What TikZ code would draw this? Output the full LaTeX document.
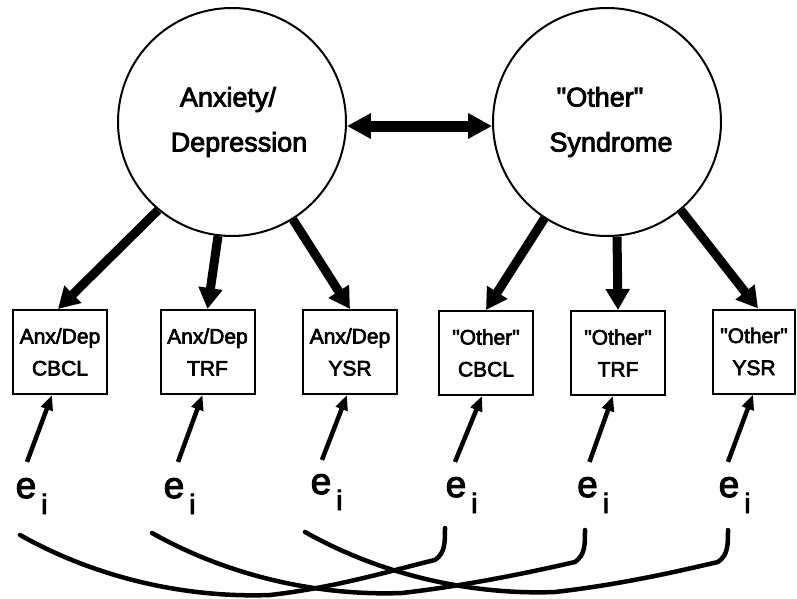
\documentclass[tikz,border=0pt]{standalone}
\usepackage{fontspec}
\newfontfamily\hv[FakeBold=3]{Liberation Sans}
\usetikzlibrary{arrows.meta,calc}
\newcommand{\esub}{e\rlap{\kern5pt\raisebox{-16pt}{\fontsize{28}{28}\selectfont i}}}
\begin{document}
\begin{tikzpicture}[x=1pt,y=-1pt,
  lat/.style={circle,draw,line width=2pt,minimum size=228pt,inner sep=0pt,align=center,font=\hv\fontsize{27}{45}\selectfont},
  obs/.style={rectangle,draw,line width=2pt,minimum width=94pt,minimum height=84pt,inner sep=0pt,align=center,font=\hv\fontsize{21}{32}\selectfont},
  err/.style={inner sep=0pt,anchor=base,font=\hv\fontsize{37}{37}\selectfont},
  load/.style={line width=9pt,-{Triangle[length=21pt,width=23pt]}},
  cov/.style={line width=11pt,{Triangle[length=24pt,width=24pt]}-{Triangle[length=24pt,width=24pt]}},
  res/.style={line width=4.5pt,-{Triangle[length=15pt,width=12pt]}},
  corr/.style={line width=4.5pt,line cap=round}]
\useasboundingbox (0,0) rectangle (797,599);
% latent variables
\node[lat] (A) at (232,122) {Anxiety/\hspace*{8pt}\\\hspace*{14pt}Depression};
\node[lat] (O) at (607,122) {"Other"\hspace*{14pt}\\\hspace*{8pt}Syndrome};
% observed variables
\node[obs] (b1) at (60,352) {Anx/Dep\\CBCL};
\node[obs] (b2) at (207.5,352) {Anx/Dep\\TRF};
\node[obs] (b3) at (350,352) {Anx/Dep\\YSR};
\node[obs] (b4) at (486,353) {"Other"\\CBCL};
\node[obs] (b5) at (618,353) {"Other"\\TRF};
\node[obs,minimum width=82pt] (b6) at (754,351.5) {"Other"\\YSR};
% errors
\node[err] (e1) at (26,498) {\esub};
\node[err] (e2) at (174,498) {\esub};
\node[err] (e3) at (321,494) {\esub};
\node[err] (e4) at (456,497) {\esub};
\node[err] (e5) at (587.5,497) {\esub};
\node[err] (e6) at (729,497) {\esub};
% covariance between latents
\draw[cov] (A.-2) -- (O.182);
% loadings
\draw[load] (A.-130) -- ([xshift=-2pt]b1.north);
\draw[load] (A.-97) -- (b2.north);
\draw[load] (A.-58) -- (b3.north);
\draw[load] (O.-123) -- (b4.north);
\draw[load] (O.-85) -- (b5.north);
\draw[load] (O.-50) -- ([xshift=4pt]b6.north);
% residual arrows
\draw[res] ([xshift=1pt,yshift=16pt]e1.north) -- ([xshift=-8pt]b1.south);
\draw[res] ([xshift=4pt,yshift=16pt]e2.north) -- ([xshift=-5pt]b2.south);
\draw[res] ([xshift=1pt,yshift=14pt]e3.north) -- ([xshift=-3pt]b3.south);
\draw[res] ([xshift=-1pt,yshift=15pt]e4.north) -- ([xshift=-4pt]b4.south);
\draw[res] ([xshift=2pt,yshift=15pt]e5.north) -- ([xshift=-5pt]b5.south);
\draw[res] ([xshift=-1pt,yshift=15pt]e6.north) -- ([xshift=-1pt]b6.south);
% correlated errors
\coordinate (s1) at (20,535); \coordinate (t1) at (445,528);
\coordinate (s2) at (152,533); \coordinate (t2) at (585,530);
\coordinate (s3) at (305,532); \coordinate (t3) at (728,530);
\foreach \s/\t in {s1/t1,s2/t2,s3/t3}{
  \draw[corr] (\s) .. controls +(80,45) and +(-80,3) .. ($(\s)+(250,60)$)
    .. controls +(70,-8) and +(-35,8) .. ($(\t)+(-10,32)$)
    .. controls +(10,-7) and +(0,15) .. (\t);
}
\end{tikzpicture}
\end{document}
